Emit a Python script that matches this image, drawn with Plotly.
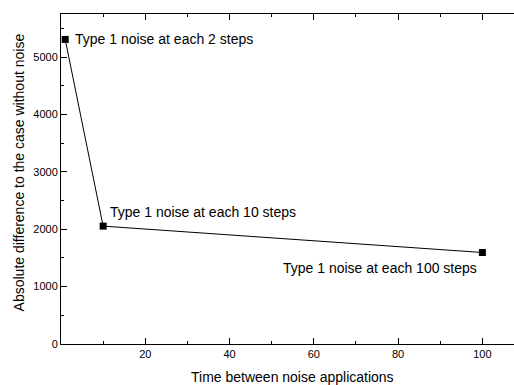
import plotly.graph_objects as go

steps = [1, 10, 100]
abs_diff = [5310, 2055, 1595]
labels = ["Type 1 noise at each 2 steps", "Type 1 noise at each 10 steps", "Type 1 noise at each 100 steps"]
x_ticks = [20, 40, 60, 80, 100]
y_ticks = [0, 1000, 2000, 3000, 4000, 5000]
x_title = "Time between noise applications"
y_title = "Absolute difference to the case without noise"

FONT = "Liberation Sans, Arial, sans-serif"

fig = go.Figure()
fig.add_trace(go.Scatter(
    x=steps, y=abs_diff, mode="lines+markers",
    line=dict(color="black", width=1),
    marker=dict(symbol="square", size=7, color="black"),
    cliponaxis=False, showlegend=False,
))

# annotation placement: (xanchor, xshift, yshift)
placements = [("left", 8, 0), ("left", 5, 14), ("right", -3, -15)]
for xv, yv, t, (anc, xs, ys) in zip(steps, abs_diff, labels, placements):
    fig.add_annotation(x=xv, y=yv, xref="x", yref="y", text=t, showarrow=False,
                       xanchor=anc, yanchor="middle", xshift=xs, yshift=ys,
                       font=dict(family=FONT, size=14, color="black"))

# axis titles as annotations (slightly off-centre like the reference)
fig.add_annotation(xref="paper", yref="paper", x=0.512, y=-0.1, text=x_title,
                   showarrow=False, xanchor="center", yanchor="middle",
                   font=dict(family=FONT, size=14, color="black"))
fig.add_annotation(xref="paper", yref="paper", x=-0.0927, y=0.52, text=y_title,
                   showarrow=False, xanchor="center", yanchor="middle", textangle=-90,
                   font=dict(family=FONT, size=14, color="black"))

axis_common = dict(
    showline=True, linecolor="black", linewidth=1,
    ticks="inside", ticklen=6, tickwidth=1, tickcolor="black",
    showgrid=False, zeroline=False,
    tickfont=dict(family=FONT, size=11, color="black"),
)

fig.update_xaxes(range=[0, 107.5], tickvals=x_ticks, mirror="ticks",
                 minor=dict(ticks="inside", ticklen=3, tickcolor="black", dtick=10, tick0=0, showgrid=False),
                 **axis_common)
fig.update_yaxes(range=[0, 5753], tickvals=y_ticks,
                 minor=dict(ticks="inside", ticklen=3, tickcolor="black", dtick=500, tick0=0, showgrid=False),
                 **axis_common)

fig.update_layout(
    width=514, height=385,
    margin=dict(l=61, r=0, t=14, b=41, pad=0),
    plot_bgcolor="white", paper_bgcolor="white",
    font=dict(family=FONT, color="black"),
)

fig.write_html("out.html")
